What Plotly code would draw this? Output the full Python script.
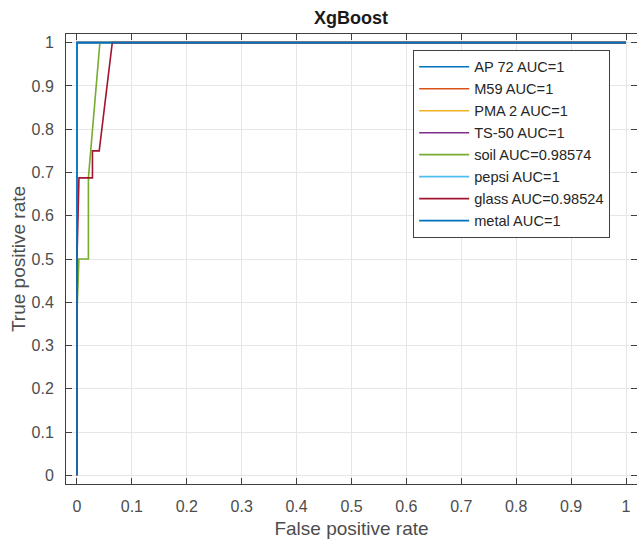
import plotly.graph_objects as go

# ---- data ----
class_names = ["AP 72", "M59", "PMA 2", "TS-50", "soil", "pepsi", "glass", "metal"]
auc_values = ["1", "1", "1", "1", "0.98574", "1", "0.98524", "1"]

fpr_ap72 = [0, 0, 1]
tpr_ap72 = [0, 1, 1]
fpr_m59 = [0, 0, 1]
tpr_m59 = [0, 1, 1]
fpr_pma2 = [0, 0, 1]
tpr_pma2 = [0, 1, 1]
fpr_ts50 = [0, 0, 1]
tpr_ts50 = [0, 1, 1]
fpr_soil = [0, 0, 0.0035, 0.0208, 0.0208, 0.0417, 1]
tpr_soil = [0, 0.375, 0.5, 0.5, 0.6875, 1, 1]
fpr_pepsi = [0, 0, 1]
tpr_pepsi = [0, 1, 1]
fpr_glass = [0, 0, 0.0036, 0.0282, 0.0282, 0.0405, 0.0643, 1]
tpr_glass = [0, 0.5, 0.6875, 0.6875, 0.75, 0.75, 1, 1]
fpr_metal = [0, 0, 1]
tpr_metal = [0, 1, 1]

fprs = [fpr_ap72, fpr_m59, fpr_pma2, fpr_ts50, fpr_soil, fpr_pepsi, fpr_glass, fpr_metal]
tprs = [tpr_ap72, tpr_m59, tpr_pma2, tpr_ts50, tpr_soil, tpr_pepsi, tpr_glass, tpr_metal]

colors = ["#0072BD", "#D95319", "#EDB120", "#7E2F8E", "#77AC30", "#4DBEEE", "#A2142F", "#0072BD"]

tick_vals = [0, 0.1, 0.2, 0.3, 0.4, 0.5, 0.6, 0.7, 0.8, 0.9, 1]
tick_text = ["0", "0.1", "0.2", "0.3", "0.4", "0.5", "0.6", "0.7", "0.8", "0.9", "1"]

FONT = "Liberation Sans, Arial, Helvetica, sans-serif"

fig = go.Figure()
for name, auc, x, y, c in zip(class_names, auc_values, fprs, tprs, colors):
    fig.add_trace(go.Scatter(
        x=x, y=y, mode="lines", name=f"{name} AUC={auc}",
        line=dict(color=c, width=1.6),
    ))

axis_common = dict(
    tickvals=tick_vals, ticktext=tick_text,
    ticks="inside", ticklen=6, tickcolor="#404040", tickwidth=1,
    showline=True, linecolor="#404040", linewidth=1, mirror="ticks",
    showgrid=True, gridcolor="#e6e6e6", gridwidth=1,
    zeroline=False, automargin=False, ticklabeloverflow="allow",
    tickfont=dict(family=FONT, size=16, color="#4d4d4d"),
    range=[-0.02, 1.02],
)

fig.update_layout(
    width=637, height=541,
    margin=dict(l=66, r=0, t=34, b=57),
    paper_bgcolor="white", plot_bgcolor="white",
    title=dict(text="<b>XgBoost</b>", x=0.551, xanchor="center", y=0.968, yanchor="middle",
               font=dict(family=FONT, size=18, color="#1a1a1a")),
    xaxis=dict(**axis_common,
               title=dict(text="False positive rate", standoff=7,
                          font=dict(family=FONT, size=19, color="#4d4d4d")),
               ticklabelstandoff=8),
    yaxis=dict(**axis_common,
               title=dict(text="True positive rate", standoff=0,
                          font=dict(family=FONT, size=19, color="#4d4d4d")),
               ticklabelstandoff=8),
    legend=dict(
        x=0.608, xanchor="left", y=0.965, yanchor="top",
        bgcolor="white", bordercolor="#404040", borderwidth=1,
        font=dict(family=FONT, size=14.6, color="#262626"),
        itemwidth=50, tracegroupgap=0,
    ),
    showlegend=True,
)

fig.write_html("out.html", config={"displayModeBar": False},
               post_script="document.body.style.margin='0';")
